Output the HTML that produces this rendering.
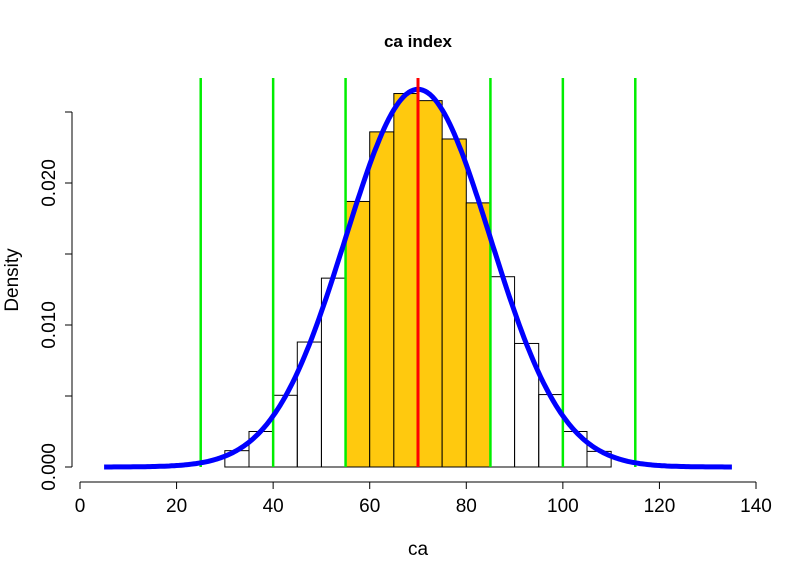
<!DOCTYPE html>
<html><head><meta charset="utf-8"><style>body{margin:0;background:#fff}svg{display:block;font-family:"Liberation Sans",Arial,sans-serif}</style></head>
<body>
<svg id="c" width="797" height="580"></svg>
<script>
const binStarts=[20,25,30,35,40,45,50,55,60,65,70,75,80,85,90,95,100,105,110,115];
const densities=[0,0,0.00115,0.0025,0.00505,0.0088,0.0133,0.0187,0.0236,0.0263,0.0258,0.0231,0.0186,0.0134,0.0087,0.0051,0.0025,0.0011,0,0];
const binWidth=5;
const meanVal=70, sdVal=15;
const greenLines=[25,40,55,85,100,115];
const xTicks=[0,20,40,60,80,100,120,140];
const yTicks=[0,0.005,0.01,0.015,0.02,0.025];
const yLabels=["0.000","","0.010","","0.020",""];
const hlLo=55, hlHi=85;
const NS="http://www.w3.org/2000/svg";
const svg=document.getElementById('c');
const X=v=>80+v*676/140;
const Y=v=>467-v*14200;
function mk(t,a,p){const e=document.createElementNS(NS,t);for(const k in a)e.setAttribute(k,a[k]);(p||svg).appendChild(e);return e;}
const t=mk('text',{x:418,y:47,'text-anchor':'middle','font-size':17,'font-weight':'bold'});t.textContent='ca index';


binStarts.forEach((b,i)=>{const d=densities[i];
 const r=mk('rect',{x:X(b),y:Y(d),width:X(b+binWidth)-X(b),height:Y(0)-Y(d),fill:(b>=hlLo&&b<hlHi)?'#FFC90E':'none',stroke:'#000','stroke-width':1});
 
 });
let pts=[];for(let v=5;v<=135;v+=0.5){const d=Math.exp(-0.5*((v-meanVal)/sdVal)**2)/(sdVal*Math.sqrt(2*Math.PI));pts.push(X(v).toFixed(1)+','+Y(d).toFixed(1));}
greenLines.forEach(g=>{const l=mk('line',{x1:X(g),x2:X(g),y1:78,y2:467,stroke:'#00EE00','stroke-width':2.5});
 
 });
const cv=mk('polyline',{points:pts.join(' '),fill:'none',stroke:'#0000FF','stroke-width':5,'stroke-linejoin':'round'});


const ml=mk('line',{x1:X(meanVal),x2:X(meanVal),y1:78,y2:467,stroke:'#FF0000','stroke-width':3});


const xa=mk('g',{});


mk('line',{x1:X(xTicks[0]),x2:X(xTicks[xTicks.length-1]),y1:482,y2:482,stroke:'#000'},xa);
xTicks.forEach(v=>{mk('line',{x1:X(v),x2:X(v),y1:482,y2:489,stroke:'#000'},xa);
 const tx=mk('text',{x:X(v),y:512,'text-anchor':'middle','font-size':19},xa);tx.textContent=v;});
const ya=mk('g',{});


mk('line',{x1:72,x2:72,y1:Y(yTicks[0]),y2:Y(yTicks[yTicks.length-1]),stroke:'#000'},ya);
yTicks.forEach((v,i)=>{mk('line',{x1:65,x2:72,y1:Y(v),y2:Y(v),stroke:'#000'},ya);
 if(yLabels[i]){const tx=mk('text',{x:55,y:Y(v),'text-anchor':'middle','font-size':19,transform:`rotate(-90 55 ${Y(v)})`},ya);tx.textContent=yLabels[i];}});
const xl=mk('text',{x:418,y:555,'text-anchor':'middle','font-size':19});xl.textContent='ca';


const yl=mk('text',{x:18,y:280,'text-anchor':'middle','font-size':19,transform:'rotate(-90 18 280)'});yl.textContent='Density';


</script>
</body></html>
